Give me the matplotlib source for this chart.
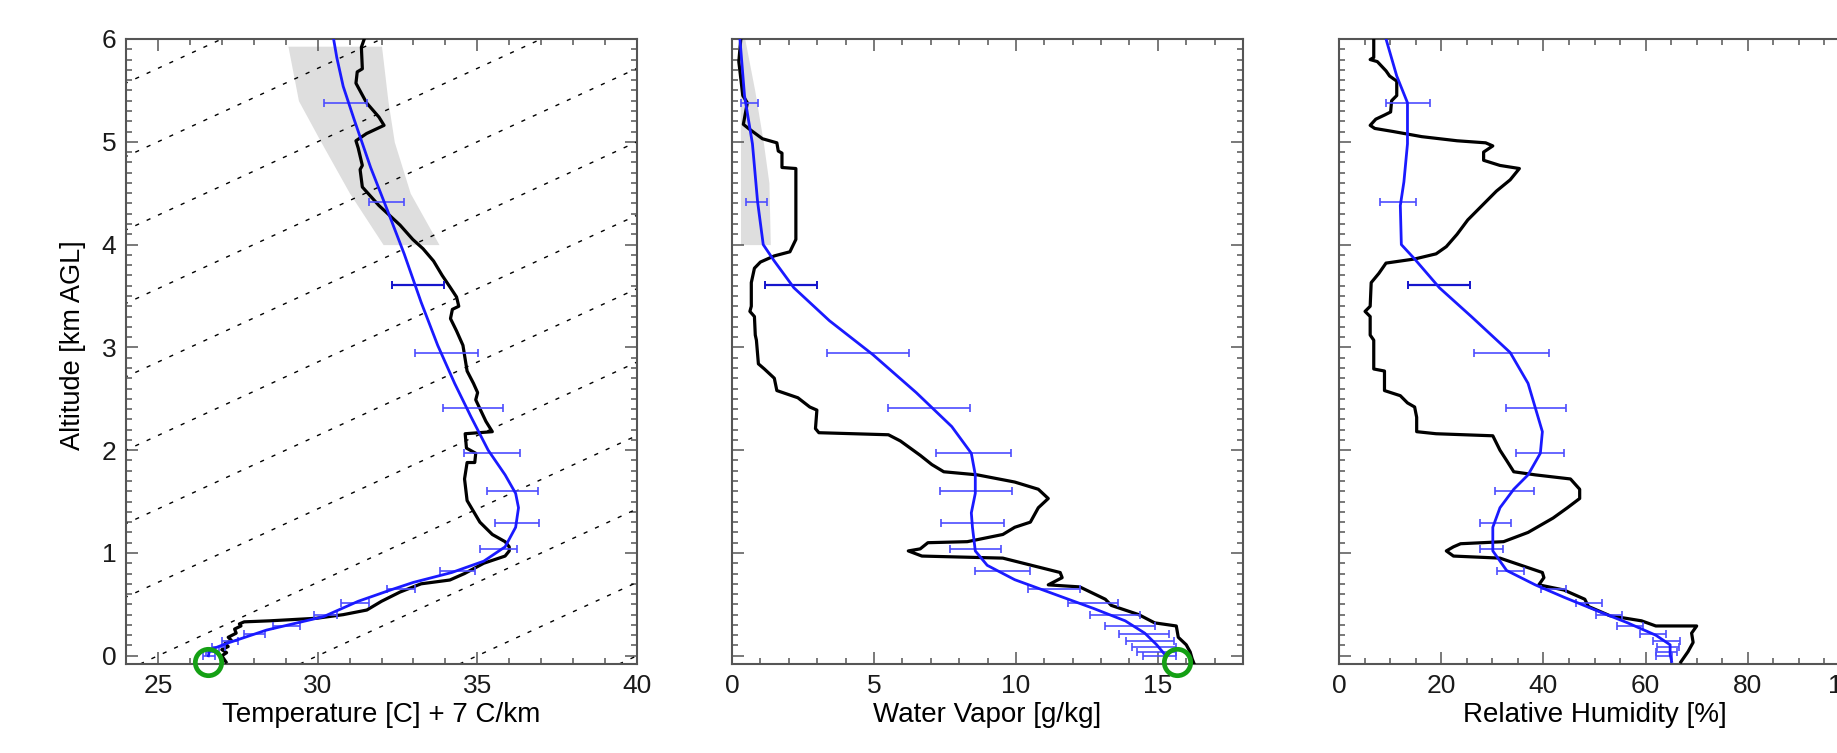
import numpy as np
import matplotlib
matplotlib.use("Agg")
import matplotlib.pyplot as plt

plt.rcParams['font.family'] = ['Liberation Sans', 'DejaVu Sans']

# ---------------- data ----------------
# error-bar altitudes (km AGL), shared by the three panels
bar_alt = [0.0, 0.04, 0.085, 0.14, 0.21, 0.29, 0.40, 0.51, 0.65, 0.82, 1.04, 1.29, 1.60, 1.97, 2.41, 2.95, 3.61, 4.41, 5.38]

# Panel 1: temperature + 7 C/km
t_obs_alt = [-0.06, 0.0, 0.03, 0.06, 0.09, 0.12, 0.15, 0.18, 0.22, 0.26, 0.29, 0.31, 0.33, 0.34, 0.365, 0.40, 0.445, 0.53, 0.62, 0.70, 0.737, 0.80, 0.90, 0.97, 1.02, 1.06, 1.11, 1.18, 1.30, 1.51, 1.72, 1.76, 1.88, 1.88, 1.97, 2.02, 2.16, 2.18, 2.28, 2.49, 2.56, 2.65, 2.77, 3.02, 3.16, 3.28, 3.37, 3.40, 3.49, 3.58, 3.70, 3.84, 3.96, 4.05, 4.19, 4.38, 4.56, 4.73, 4.77, 4.94, 5.01, 5.08, 5.16, 5.24, 5.38, 5.57, 5.68, 5.71, 5.92, 6.0]
t_obs_val = [27.13, 27.0, 27.15, 27.0, 27.2, 27.1, 27.3, 27.2, 27.45, 27.4, 27.6, 27.55, 27.7, 28.5, 29.97, 30.8, 31.54, 32.0, 32.58, 33.24, 34.14, 34.6, 35.2, 35.87, 36.0, 36.0, 35.87, 35.47, 35.08, 34.68, 34.6, 34.62, 34.68, 34.92, 34.95, 34.66, 34.62, 35.47, 35.27, 34.95, 35.01, 34.88, 34.68, 34.55, 34.35, 34.16, 34.22, 34.42, 34.35, 34.16, 33.9, 33.63, 33.3, 32.98, 32.58, 31.92, 31.4, 31.33, 31.4, 31.27, 31.2, 31.53, 32.08, 31.92, 31.53, 31.2, 31.24, 31.4, 31.37, 31.46]
t_ret_alt = [0.0, 0.056, 0.12, 0.25, 0.38, 0.53, 0.644, 0.714, 0.81, 0.92, 1.06, 1.25, 1.44, 1.58, 1.76, 2.0, 2.32, 2.65, 3.02, 3.44, 3.91, 4.33, 4.75, 5.22, 5.54, 5.82, 6.0]
t_ret_val = [26.58, 26.62, 27.15, 28.4, 30.18, 31.27, 32.32, 33.0, 34.2, 35.2, 35.87, 36.2, 36.29, 36.2, 35.87, 35.34, 34.81, 34.29, 33.76, 33.24, 32.71, 32.19, 31.66, 31.14, 30.8, 30.6, 30.5]
t_bar_lo = [26.4, 26.5, 26.7, 27.0, 27.7, 28.6, 29.89, 30.74, 32.16, 33.83, 35.08, 35.54, 35.31, 34.59, 33.93, 33.04, 32.32, 31.6, 30.19]
t_bar_hi = [26.8, 26.9, 27.1, 27.5, 28.35, 29.45, 30.61, 31.6, 33.04, 34.92, 36.23, 36.94, 36.89, 36.35, 35.8, 35.01, 33.96, 32.71, 31.56]
t_band_alt = [4.0, 4.5, 5.0, 5.4, 5.93]
t_band_lo = [32.05, 31.0, 30.1, 29.4, 29.07]
t_band_hi = [33.8, 32.9, 32.4, 32.2, 32.0]
t_sfc = 26.58
isotherms = list(range(-25, 45, 5))
lapse = 7.0

# Panel 2: water vapor mixing ratio
q_obs_alt = [-0.08, -0.03, 0.037, 0.107, 0.18, 0.29, 0.32, 0.40, 0.49, 0.55, 0.67, 0.69, 0.76, 0.81, 0.95, 0.97, 1.02, 1.04, 1.10, 1.11, 1.18, 1.25, 1.30, 1.44, 1.53, 1.62, 1.69, 1.76, 1.79, 1.86, 1.95, 2.09, 2.15, 2.17, 2.21, 2.39, 2.42, 2.51, 2.58, 2.70, 2.79, 2.84, 3.07, 3.12, 3.30, 3.35, 3.40, 3.63, 3.77, 3.83, 3.89, 3.93, 4.05, 4.74, 4.75, 4.89, 4.91, 4.99, 5.03, 5.13, 5.17, 5.38, 5.45, 5.78, 6.0]
q_obs_val = [16.28, 16.21, 16.14, 16.0, 15.72, 15.65, 14.89, 14.33, 13.36, 13.15, 12.25, 11.14, 11.63, 11.56, 9.54, 6.69, 6.21, 6.63, 6.9, 8.29, 9.54, 9.96, 10.51, 10.79, 11.14, 10.79, 9.96, 8.64, 7.46, 7.04, 6.63, 5.93, 5.51, 3.06, 2.94, 2.99, 2.74, 2.32, 1.58, 1.49, 1.14, 0.93, 0.86, 0.82, 0.79, 0.63, 0.68, 0.68, 0.79, 1.0, 1.49, 2.04, 2.25, 2.25, 1.76, 1.76, 1.63, 1.58, 1.07, 0.58, 0.4, 0.54, 0.38, 0.24, 0.31]
q_ret_alt = [0.014, 0.107, 0.22, 0.34, 0.46, 0.60, 0.74, 0.88, 1.02, 1.25, 1.39, 1.58, 1.76, 1.97, 2.23, 2.56, 2.93, 3.26, 3.58, 3.84, 4.0, 4.42, 4.98, 5.45, 6.0]
q_ret_val = [15.24, 14.96, 14.54, 13.85, 12.74, 11.35, 9.96, 8.99, 8.57, 8.47, 8.43, 8.57, 8.57, 8.43, 7.74, 6.49, 4.96, 3.43, 2.18, 1.49, 1.1, 0.9, 0.72, 0.44, 0.28]
q_bar_lo = [14.47, 14.26, 14.1, 13.89, 13.64, 13.15, 12.6, 11.83, 10.44, 8.57, 7.67, 7.36, 7.32, 7.18, 5.49, 3.36, 1.18, 0.49, 0.33]
q_bar_hi = [15.65, 15.65, 15.63, 15.58, 15.38, 14.89, 14.38, 13.61, 12.25, 10.51, 9.47, 9.58, 9.85, 9.82, 8.4, 6.24, 2.99, 1.24, 0.9]
q_band_alt = [4.0, 4.6, 5.0, 5.5, 6.0]
q_band_lo = [0.3, 0.3, 0.3, 0.28, 0.25]
q_band_hi = [1.35, 1.3, 1.1, 0.8, 0.45]
q_sfc = 15.66

# Panel 3: relative humidity
rh_obs_alt = [-0.06, 0.04, 0.13, 0.22, 0.29, 0.29, 0.34, 0.39, 0.48, 0.55, 0.64, 0.69, 0.76, 0.81, 0.95, 0.97, 1.02, 1.06, 1.09, 1.11, 1.20, 1.34, 1.44, 1.53, 1.62, 1.72, 1.76, 1.79, 1.90, 2.0, 2.14, 2.16, 2.18, 2.32, 2.42, 2.46, 2.53, 2.58, 2.77, 2.79, 3.07, 3.12, 3.30, 3.35, 3.40, 3.63, 3.72, 3.82, 3.86, 3.91, 3.98, 4.10, 4.24, 4.38, 4.52, 4.63, 4.74, 4.77, 4.82, 4.90, 4.96, 4.99, 5.01, 5.05, 5.10, 5.13, 5.16, 5.22, 5.26, 5.29, 5.40, 5.45, 5.59, 5.64, 5.69, 5.78, 5.80, 5.82, 6.0]
rh_obs_val = [66.9, 68.3, 69.3, 69.0, 70.0, 62.0, 59.2, 53.0, 48.8, 48.1, 44.0, 39.1, 40.1, 39.8, 31.5, 22.4, 21.0, 22.4, 23.8, 32.2, 37.0, 41.9, 44.7, 47.1, 47.1, 45.3, 38.4, 34.2, 32.8, 31.5, 30.1, 19.0, 15.2, 15.2, 14.8, 13.4, 12.0, 8.9, 8.9, 6.8, 6.8, 6.1, 6.1, 5.1, 6.1, 6.3, 7.8, 9.2, 14.8, 19.0, 21.0, 23.1, 25.2, 28.0, 30.8, 33.5, 35.3, 31.5, 28.3, 28.3, 30.1, 28.7, 23.1, 16.2, 10.6, 7.0, 6.1, 7.2, 8.9, 10.1, 10.3, 11.3, 11.3, 9.9, 9.2, 7.5, 6.1, 6.8, 6.8]
rh_ret_alt = [-0.056, 0.014, 0.107, 0.20, 0.32, 0.43, 0.57, 0.69, 0.83, 1.02, 1.25, 1.44, 1.62, 1.76, 1.97, 2.18, 2.65, 2.95, 3.30, 3.58, 3.86, 4.0, 4.38, 4.61, 4.98, 5.38, 5.64, 6.0]
rh_ret_val = [65.1, 64.8, 64.8, 62.0, 56.5, 50.9, 44.0, 38.4, 32.8, 30.1, 30.1, 31.5, 34.2, 37.0, 39.4, 39.8, 37.0, 33.5, 25.9, 19.65, 14.8, 12.2, 12.0, 12.7, 13.4, 13.4, 11.3, 9.2]
rh_bar_lo = [62.0, 62.0, 62.2, 61.5, 58.9, 54.4, 50.2, 46.4, 39.6, 30.9, 27.6, 27.6, 30.6, 34.7, 32.6, 26.5, 13.5, 8.05, 9.1]
rh_bar_hi = [65.1, 66.2, 66.5, 66.7, 64.0, 59.4, 55.3, 51.5, 44.5, 36.3, 32.0, 33.7, 38.2, 44.0, 44.5, 41.0, 25.7, 15.1, 17.8]

# ---------------- figure ----------------
fig = plt.figure(figsize=(18.37, 7.53), dpi=100)
W, H = 1837.0, 753.0
ax_w, ax_h = 511 / W, 625 / H
bottom = (H - 664) / H
ax1 = fig.add_axes([126 / W, bottom, ax_w, ax_h])
ax2 = fig.add_axes([732 / W, bottom, ax_w, ax_h])
ax3 = fig.add_axes([1339 / W, bottom, ax_w, ax_h])

spine_col = '#555555'
obs_col = 'black'
ret_col = '#1a1aff'
bar_col = '#4d4dff'
bar_dark = '#1515cc'
band_col = '#dedede'
ylim = (-0.08, 6.0)
tick_fs = 19
label_fs = 20

def style(ax, xlim, xmaj, xmin, show_y):
    ax.set_xlim(*xlim)
    ax.set_ylim(*ylim)
    ax.set_xticks(xmaj)
    ax.set_xticks(xmin, minor=True)
    ax.set_yticks(range(0, 7))
    ax.set_yticks(np.arange(0, 6.01, 0.1), minor=True)
    ax.tick_params(which='both', direction='in', top=True, right=True,
                   color=spine_col, width=1.1, labelsize=tick_fs, labelcolor='#1a1a1a')
    ax.tick_params(which='major', length=8.5, pad=7)
    ax.tick_params(which='minor', length=4.3)
    if not show_y:
        ax.tick_params(axis='y', labelleft=False)
    for s in ax.spines.values():
        s.set_color(spine_col)
        s.set_linewidth(1.5)

def bars(ax, lo, hi):
    lo = np.asarray(lo); hi = np.asarray(hi); alt = np.asarray(bar_alt)
    ctr = (lo + hi) / 2; half = (hi - lo) / 2
    dark = np.isclose(alt, 3.61)
    ax.errorbar(ctr[~dark], alt[~dark], xerr=half[~dark], fmt='none', ecolor=bar_col,
                elinewidth=1.2, capsize=3.2, capthick=1.2, zorder=4)
    ax.errorbar(ctr[dark], alt[dark], xerr=half[dark], fmt='none', ecolor=bar_dark,
                elinewidth=1.6, capsize=3.2, capthick=1.4, zorder=4)

# Panel 1
ax1.fill_betweenx(t_band_alt, t_band_lo, t_band_hi, color=band_col, lw=0, zorder=1)
zz = np.array([ylim[0], ylim[1]])
for c in isotherms:
    ax1.plot(c + lapse * zz, zz, color='black', lw=1.0, ls=(0, (3, 6)), zorder=2)
ax1.plot(t_obs_val, t_obs_alt, color=obs_col, lw=2.3, zorder=3)
bars(ax1, t_bar_lo, t_bar_hi)
ax1.plot(t_ret_val, t_ret_alt, color=ret_col, lw=2.0, zorder=5)
ax1.plot([t_sfc], [-0.065], marker='o', ms=19, mfc='none', mec='#14a014', mew=3.4,
         clip_on=False, zorder=6)
style(ax1, (24, 40), [25, 30, 35, 40], np.arange(24, 40.1, 1), True)
ax1.set_xlabel('Temperature [C] + 7 C/km', fontsize=label_fs, labelpad=3)
ax1.set_ylabel('Altitude [km AGL]', fontsize=19.5)
ax1.yaxis.set_label_coords(-0.078, 0.51)

# Panel 2
ax2.fill_betweenx(q_band_alt, q_band_lo, q_band_hi, color=band_col, lw=0, zorder=1)
ax2.plot(q_obs_val, q_obs_alt, color=obs_col, lw=2.3, zorder=3)
bars(ax2, q_bar_lo, q_bar_hi)
ax2.plot(q_ret_val, q_ret_alt, color=ret_col, lw=2.0, zorder=5)
ax2.plot([q_sfc], [-0.065], marker='o', ms=19, mfc='none', mec='#14a014', mew=3.4,
         clip_on=False, zorder=6)
style(ax2, (0, 18), [0, 5, 10, 15], np.arange(0, 18.1, 1), False)
ax2.set_xlabel('Water Vapor [g/kg]', fontsize=label_fs, labelpad=3)

# Panel 3
ax3.plot(rh_obs_val, rh_obs_alt, color=obs_col, lw=2.3, zorder=3)
bars(ax3, rh_bar_lo, rh_bar_hi)
ax3.plot(rh_ret_val, rh_ret_alt, color=ret_col, lw=2.0, zorder=5)
style(ax3, (0, 100), [0, 20, 40, 60, 80, 100], np.arange(0, 100.1, 5), False)
ax3.set_xlabel('Relative Humidity [%]', fontsize=label_fs, labelpad=3)

fig.savefig('out.png', dpi=100)
